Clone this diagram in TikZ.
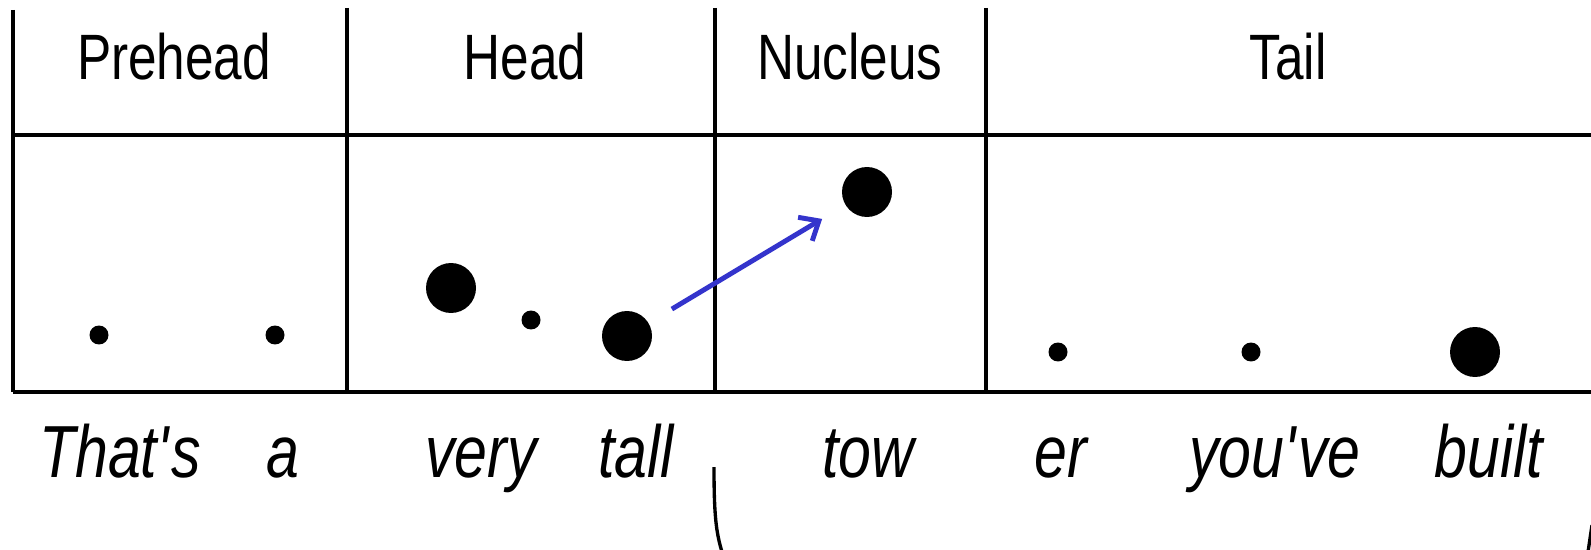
\documentclass[tikz,border=0pt]{standalone}
\usepackage{fontspec}
\newfontfamily\narrow[FakeStretch=0.8]{Liberation Sans}
\usetikzlibrary{arrows.meta}
\definecolor{pitchblue}{RGB}{52,52,204}

\begin{document}
\begin{tikzpicture}
  [x=0.02cm,y=-0.02cm,
   rule/.style={line width=1.9pt},
   dot/.style={circle,fill=black,inner sep=0pt,minimum size=0.38cm},
   bigdot/.style={circle,fill=black,inner sep=0pt,minimum size=1cm},
   hdr/.style={anchor=base,inner sep=0pt,font=\narrow\fontsize{36.5}{40}\selectfont},
   word/.style={anchor=base,inner sep=0pt,font=\narrow\itshape\fontsize{42}{46}\selectfont},
   pitch/.style={pitchblue,line width=2.8pt,-{Straight Barb[length=0.32cm,width=0.55cm]},
                 shorten <=0.54cm,shorten >=0.54cm}]
\useasboundingbox (0,0) rectangle (1591,550);

  % table
  \draw[rule] (13,135) -- (1591,135);
  \draw[rule] (13,392) -- (1591,392);
  \draw[rule] (13,10) -- (13,392);
  \foreach \x in {347,715,986}
    \draw[rule] (\x,8) -- (\x,392);

  \node[hdr] (h1) at (174,80) {Prehead};
  \node[hdr] (h2) at (525,80) {Head};
  \node[hdr] (h3) at (850,80) {Nucleus};
  \node[hdr] (h4) at (1288,80) {Tail};

  % syllables
  \node[dot] (d1) at (99,335) {};
  \node[dot] (d2) at (275,335) {};
  \node[bigdot] (d3) at (451,288) {};
  \node[dot] (d4) at (531,320) {};
  \node[bigdot] (d5) at (627,336) {};
  \node[bigdot] (d6) at (867,192) {};
  \node[dot] (d7) at (1058,352) {};
  \node[dot] (d8) at (1251,352) {};
  \node[bigdot] (d9) at (1475,352) {};

  \draw[pitch] (d5) -- (d6);

  \node[word] (w1) at (120,477) {That\textquotesingle s};
  \node[word] (w2) at (283,477) {a};
  \node[word] (w3) at (481,477) {very};
  \node[word] (w4) at (636,477) {tall};
  \node[word] (w5) at (868,477) {tow};
  \node[word] (w6) at (1061,477) {er};
  \node[word] (w7) at (1275,477) {you\textquotesingle ve};
  \node[word] (w8) at (1489,477) {built};

  \draw[rule] (714,467) .. controls (714,515) and (716,532) .. (722,552);
  \draw[rule] (1592,525) .. controls (1590,538) .. (1588,552);
\end{tikzpicture}
\end{document}
